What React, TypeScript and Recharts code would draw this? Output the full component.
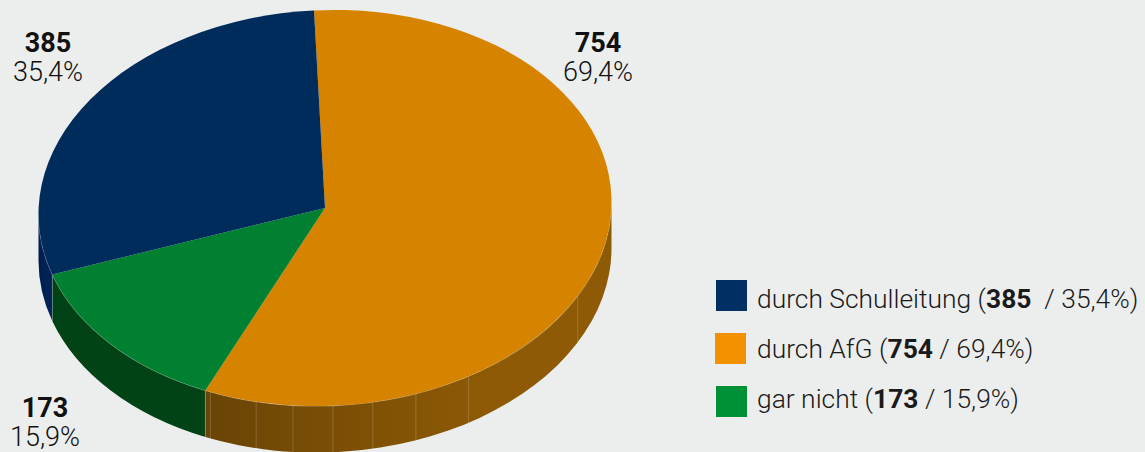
import { Legend, Pie, PieChart } from "recharts";

const categories = ["durch AfG", "gar nicht", "durch Schulleitung"];
const counts = [754, 173, 385];
const shares = ["69,4%", "15,9%", "35,4%"];
const legendOrder = [2, 0, 1];

const topColors = ["#D68400", "#008030", "#002C5C"];
const sideFrom = ["#6A4405", "#014314", "#001D4C"];
const sideTo = ["#8E5A05", "#014314", "#002257"];
const legendColors = ["#F39200", "#009036", "#003063"];

// where the ridges on the pie's rim sit, in degrees
const rimRidges = [-113.6, -103.9, -96.4, -88.4, -80.4, -71.5, -59.9, -28.1];

const labelSpots = [
  { x: 598, y: 52 },
  { x: 45, y: 417 },
  { x: 48, y: 52 },
];
const legendRows = [
  { swatchX: 716, swatchY: 280, textY: 281 },
  { swatchX: 715, swatchY: 333, textY: 331 },
  { swatchX: 716, swatchY: 386, textY: 381 },
];

const BG = "#ECEEED";
const FONT = "Roboto, sans-serif";
const SQUASH = 198 / 286.5;
const DEPTH = 46.5;
const TILT = 0.0215; // the reference's ellipse leans a little, left side lower

const rows = categories.map((name, i) => ({ name, value: counts[i], share: shares[i] }));

function Slice(props: any) {
  const { cx, cy, outerRadius, startAngle, endAngle, index } = props;
  const rx = outerRadius;
  const ry = outerRadius * SQUASH;
  const pt = (deg: number, drop = 0) => {
    const r = (deg * Math.PI) / 180;
    return `${cx + rx * Math.cos(r)} ${cy - ry * Math.sin(r) + drop}`;
  };
  const hi = Math.max(startAngle, endAngle);
  const lo = Math.min(startAngle, endAngle);
  const big = hi - lo > 180 ? 1 : 0;

  // only the front half of the rim is visible
  const frontHi = Math.min(hi, 0);
  const frontLo = Math.max(lo, -180);
  const hasSide = frontHi > frontLo;
  const sideBig = frontHi - frontLo > 180 ? 1 : 0;
  const gradId = `rim-${index}`;
  const ridges = rimRidges.filter((a) => a > frontLo && a < frontHi);
  const edges = [hi, lo].filter((a) => a > frontLo - 0.01 && a < frontHi + 0.01 && a < 0 && a > -180);

  return (
    <g transform={`matrix(1 ${-TILT} 0 1 0 ${TILT * cx})`}>
      {hasSide && (
        <>
          <defs>
            <linearGradient id={gradId} x1="0" y1="0" x2="1" y2="0">
              <stop offset="0" stopColor={sideFrom[index]} />
              <stop offset="0.7" stopColor={sideTo[index]} />
              <stop offset="1" stopColor={sideTo[index]} />
            </linearGradient>
          </defs>
          <path
            fill={`url(#${gradId})`}
            d={`M ${pt(frontHi)} A ${rx} ${ry} 0 ${sideBig} 1 ${pt(frontLo)} L ${pt(frontLo, DEPTH)} A ${rx} ${ry} 0 ${sideBig} 0 ${pt(frontHi, DEPTH)} Z`}
          />
          {[...ridges, ...edges].map((a) => (
            <path key={a} d={`M ${pt(a)} L ${pt(a, DEPTH)}`} stroke="#FFFFFF" strokeOpacity={0.18} strokeWidth={1} />
          ))}
          <path
            d={`M ${pt(frontHi)} A ${rx} ${ry} 0 ${sideBig} 1 ${pt(frontLo)}`}
            fill="none"
            stroke="#FFFFFF"
            strokeOpacity={0.3}
            strokeWidth={1}
          />
        </>
      )}
      <path
        fill={topColors[index]}
        d={`M ${cx} ${cy} L ${pt(hi)} A ${rx} ${ry} 0 ${big} 1 ${pt(lo)} Z`}
      />
    </g>
  );
}

function SliceLabel(props: any) {
  const { index } = props;
  const spot = labelSpots[index];
  return (
    <text x={spot.x} textAnchor="middle" fontFamily={FONT} fontSize={27} fill="#111111">
      <tspan x={spot.x} y={spot.y} fontWeight={700}>
        {counts[index]}
      </tspan>
      <tspan x={spot.x} y={spot.y + 29} fontWeight={300}>
        {shares[index]}
      </tspan>
    </text>
  );
}

function LegendBlock() {
  return (
    <div style={{ position: "relative", width: 1145, height: 452 }}>
      {legendOrder.map((idx, row) => (
        <div key={idx}>
          <div
            style={{
              position: "absolute",
              left: legendRows[row].swatchX,
              top: legendRows[row].swatchY,
              width: 31,
              height: 31,
              background: legendColors[idx],
            }}
          />
          <div
            style={{
              position: "absolute",
              left: 757,
              top: legendRows[row].textY,
              lineHeight: "36px",
              fontSize: 26.4,
              fontFamily: FONT,
              fontWeight: 300,
              color: "#1A1A1A",
              whiteSpace: "pre",
            }}
          >
            {categories[idx]} (<b style={{ fontWeight: 700 }}>{counts[idx]}</b>
            {idx === 2 ? "  / " : " / "}
            {shares[idx]})
          </div>
        </div>
      ))}
    </div>
  );
}

export default function App() {
  return (
    <div style={{ position: "absolute", left: 0, top: 0, width: 1145, height: 452, background: BG, overflow: "hidden" }}>
      <PieChart width={1145} height={452} margin={{ top: 0, right: 0, bottom: 0, left: 0 }}>
        <Pie
          data={rows}
          dataKey="value"
          nameKey="name"
          cx={325}
          cy={208}
          outerRadius={286.5}
          startAngle={92.2}
          endAngle={-267.8}
          stroke="none"
          isAnimationActive={false}
          shape={Slice}
          label={SliceLabel}
          labelLine={false}
        />
        <Legend
          content={() => <LegendBlock />}
          wrapperStyle={{ position: "absolute", left: 0, top: 0, width: 1145, height: 452 }}
        />
      </PieChart>
    </div>
  );
}
